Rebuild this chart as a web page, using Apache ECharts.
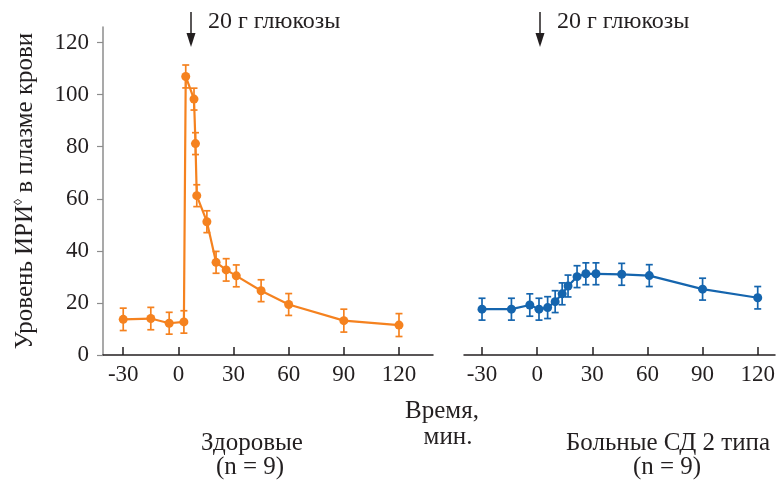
<!DOCTYPE html>
<html>
<head>
<meta charset="utf-8">
<script src="https://cdn.jsdelivr.net/npm/echarts@6/dist/echarts.min.js"></script>
<style>
  html, body { margin: 0; padding: 0; background: #fff; }
  #chart { width: 783px; height: 482px; }
</style>
</head>
<body>
<div id="chart"></div>
<script>
// Здоровые: время (мин), уровень ИРИ и погрешность
const healthyTime = [-30, -15, -5, 3, 4, 8.5, 9.3, 10, 15.5, 20.5, 26, 31.5, 45, 60, 90, 120];
const healthyIri = [13.7, 14.0, 12.2, 12.7, 107, 98.3, 81.2, 61.2, 51.2, 35.6, 32.7, 30.4, 24.7, 19.4, 13.2, 11.5];
const healthyErr = [4.3, 4.3, 4.2, 4.3, 4.4, 4.2, 4.2, 4.2, 4.2, 4.2, 4.3, 4.2, 4.2, 4.2, 4.4, 4.4];

// Больные СД 2 типа
const diabTime = [-30, -14, -4, 1, 5.7, 9.8, 13.6, 16.8, 21.7, 26.5, 32, 46, 61, 90, 120];
const diabIri = [17.6, 17.6, 19.2, 17.6, 18.2, 20.5, 23.5, 26.5, 30.1, 31.2, 31.2, 31.0, 30.5, 25.3, 22.0];
const diabErr = [4.2, 4.2, 4.3, 4.2, 4.2, 4.2, 4.2, 4.2, 4.2, 4.2, 4.2, 4.2, 4.2, 4.2, 4.3];

// подписи осей
const xTicks = [-30, 0, 30, 60, 90, 120];
const yTicks = [0, 20, 40, 60, 80, 100, 120];

const ORANGE = '#f5821f';
const BLUE = '#1565ae';
const TEXT = '#231f20';
const FONT = '"Liberation Serif", "DejaVu Serif", serif';

const chart = echarts.init(document.getElementById('chart'));

const pairs = (xs, ys) => xs.map((x, i) => [x, ys[i]]);
const errRows = (xs, ys, es) => xs.map((x, i) => [x, ys[i] - es[i], ys[i] + es[i]]);

// вертикальные "усы" погрешности
function errorBar(color) {
  return function (params, api) {
    const lo = api.coord([api.value(0), api.value(1)]);
    const hi = api.coord([api.value(0), api.value(2)]);
    const w = 3.5;
    const st = { stroke: color, lineWidth: 1.7 };
    return {
      type: 'group',
      children: [
        { type: 'line', shape: { x1: lo[0], y1: lo[1], x2: hi[0], y2: hi[1] }, style: st },
        { type: 'line', shape: { x1: lo[0] - w, y1: lo[1], x2: lo[0] + w, y2: lo[1] }, style: st },
        { type: 'line', shape: { x1: hi[0] - w, y1: hi[1], x2: hi[0] + w, y2: hi[1] }, style: st }
      ]
    };
  };
}

const xAxisBase = {
  type: 'value',
  axisLine: { onZero: false, lineStyle: { color: TEXT, width: 1.5 } },
  axisTick: { inside: true, length: 8, lineStyle: { color: TEXT, width: 1.5 }, customValues: xTicks },
  axisLabel: { customValues: xTicks, color: TEXT, fontSize: 23, fontFamily: FONT, margin: 8 },
  splitLine: { show: false }
};

const yAxisBase = {
  type: 'value',
  min: 0,
  max: 126,
  splitLine: { show: false }
};

// стрелка + подпись "20 г глюкозы"
function glucoseMark(x) {
  return [
    { type: 'line', shape: { x1: x, y1: 12, x2: x, y2: 36 }, style: { stroke: TEXT, lineWidth: 1.5 } },
    { type: 'polygon', shape: { points: [[x - 4.5, 33], [x + 4.5, 33], [x, 47]] }, style: { fill: TEXT } },
    { type: 'text', x: x + 17, y: 22, style: { text: '20 г глюкозы', font: '24px ' + FONT, fill: TEXT, verticalAlign: 'middle' } }
  ];
}

function caption(text, x, y) {
  return { type: 'text', x: x, y: y, style: { text: text, font: '25px ' + FONT, fill: TEXT, align: 'center', verticalAlign: 'middle' } };
}

const option = {
  backgroundColor: '#fff',
  animation: false,
  grid: [
    { left: 103, right: 350, top: 27, bottom: 127 },
    { left: 464, right: 8, top: 27, bottom: 127 }
  ],
  xAxis: [
    Object.assign({}, xAxisBase, { gridIndex: 0, min: -41, max: 138.5 }),
    Object.assign({}, xAxisBase, { gridIndex: 1, min: -39.8, max: 129.4 })
  ],
  yAxis: [
    Object.assign({}, yAxisBase, {
      gridIndex: 0,
      name: 'Уровень ИРИ{sup|◊} в плазме крови',
      nameLocation: 'middle',
      nameGap: 65,
      nameRotate: 90,
      nameTextStyle: {
        color: TEXT, fontSize: 25, fontFamily: FONT,
        rich: { sup: { fontSize: 12, fontFamily: FONT, color: TEXT, verticalAlign: 'top', padding: [0, 0, 10, 0] } }
      },
      axisLine: { show: true, onZero: false, lineStyle: { color: '#8c8c8c', width: 1.5 } },
      axisTick: { show: true, length: 6, lineStyle: { color: '#8c8c8c', width: 1.2 }, customValues: yTicks },
      axisLabel: { customValues: yTicks, color: TEXT, fontSize: 23, fontFamily: FONT, margin: 14 }
    }),
    Object.assign({}, yAxisBase, {
      gridIndex: 1,
      axisLine: { show: false },
      axisTick: { show: false },
      axisLabel: { show: false }
    })
  ],
  series: [
    {
      type: 'custom', xAxisIndex: 0, yAxisIndex: 0,
      renderItem: errorBar(ORANGE), data: errRows(healthyTime, healthyIri, healthyErr), z: 2
    },
    {
      type: 'line', xAxisIndex: 0, yAxisIndex: 0, data: pairs(healthyTime, healthyIri),
      symbol: 'circle', symbolSize: 9, itemStyle: { color: ORANGE },
      lineStyle: { color: ORANGE, width: 2.2 }, z: 3
    },
    {
      type: 'custom', xAxisIndex: 1, yAxisIndex: 1,
      renderItem: errorBar(BLUE), data: errRows(diabTime, diabIri, diabErr), z: 2
    },
    {
      type: 'line', xAxisIndex: 1, yAxisIndex: 1, data: pairs(diabTime, diabIri),
      symbol: 'circle', symbolSize: 9, itemStyle: { color: BLUE },
      lineStyle: { color: BLUE, width: 2.2 }, z: 3
    }
  ],
  graphic: [].concat(
    glucoseMark(191),
    glucoseMark(540),
    [
      caption('Время,', 442, 411),
      caption('мин.', 448, 437),
      caption('Здоровые', 252, 443),
      caption('(n = 9)', 250, 467),
      caption('Больные СД 2 типа', 668, 443),
      caption('(n = 9)', 667, 467)
    ]
  )
};

chart.setOption(option);
</script>
</body>
</html>
